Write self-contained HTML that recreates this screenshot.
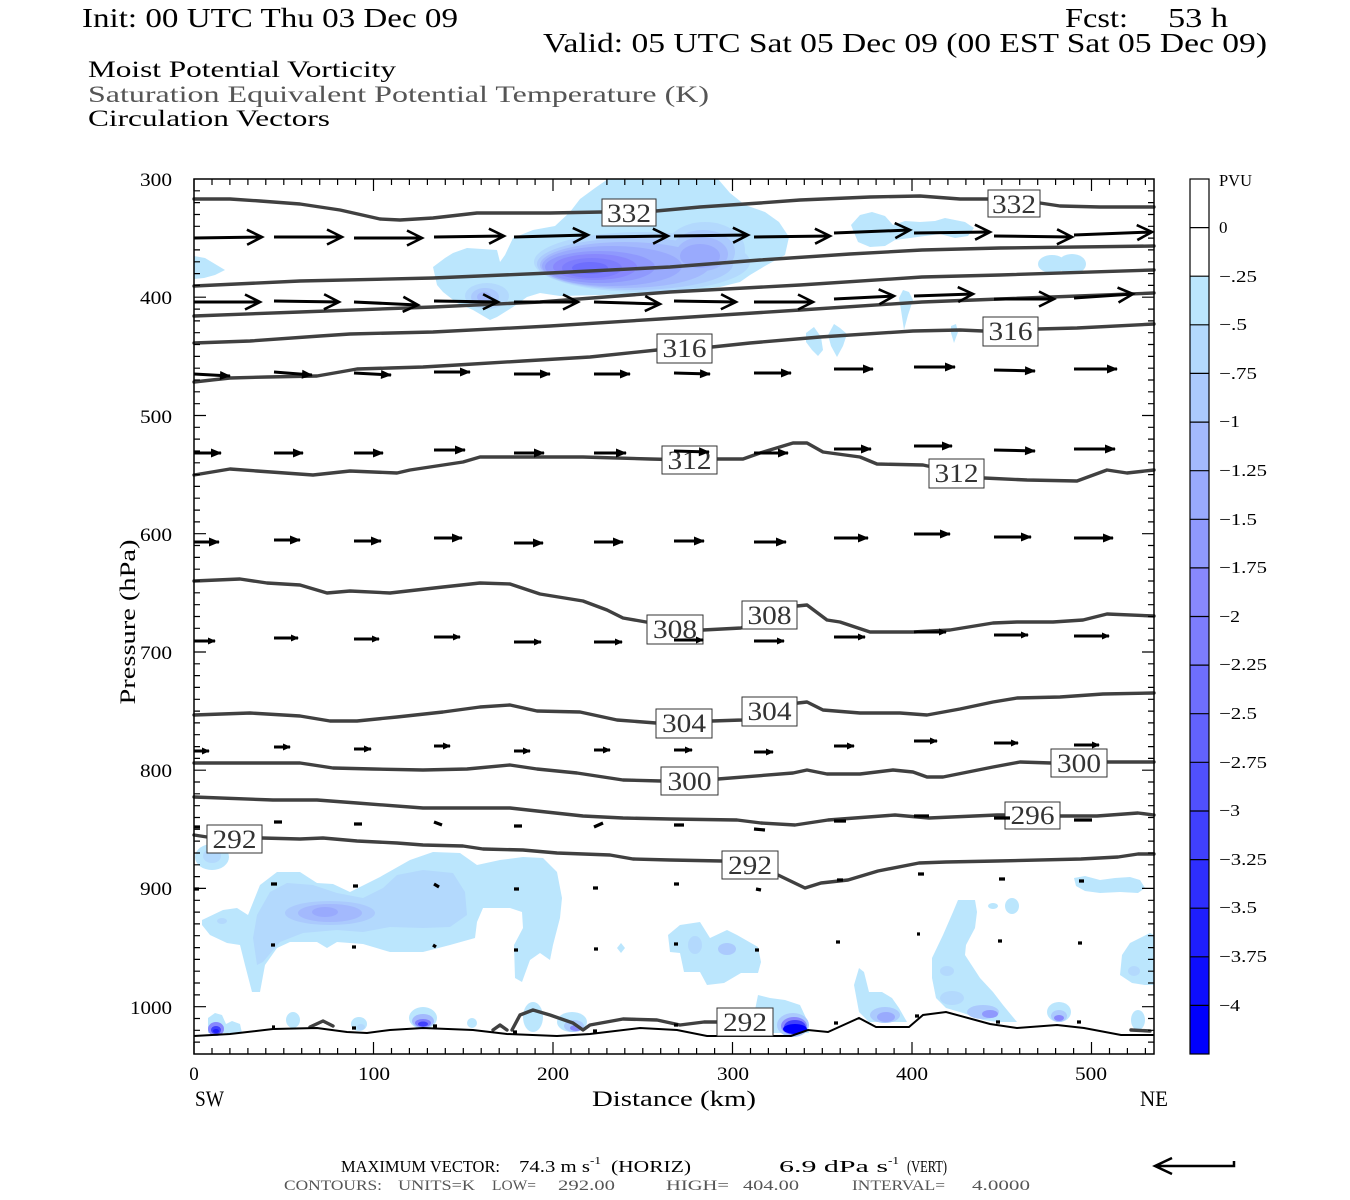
<!DOCTYPE html>
<html><head><meta charset="utf-8"><style>html,body{margin:0;padding:0;background:#fff}svg{display:block}</style></head>
<body>
<svg width="1350" height="1200" viewBox="0 0 1350 1200" xmlns="http://www.w3.org/2000/svg" font-family="'Liberation Serif', serif">
<defs>
<marker id="oh" viewBox="0 0 18 18" markerWidth="18" markerHeight="18" refX="16" refY="8" orient="auto" markerUnits="userSpaceOnUse" overflow="visible"><path d="M1,0.5 L16,8 L1,15.5" fill="none" stroke="#000" stroke-width="2.6"/></marker>
<marker id="fh" viewBox="0 0 11 9" markerWidth="11" markerHeight="9" refX="10" refY="4.5" orient="auto" markerUnits="userSpaceOnUse" overflow="visible"><path d="M0,0 L11,4.5 L0,9Z" fill="#000"/></marker>
<marker id="fs" viewBox="0 0 8 7" markerWidth="8" markerHeight="7" refX="7" refY="3.5" orient="auto" markerUnits="userSpaceOnUse" overflow="visible"><path d="M0,0 L8,3.5 L0,7Z" fill="#000"/></marker>
</defs>
<rect width="1350" height="1200" fill="#fff"/>

<!-- Titles -->
<text x="82" y="27" font-size="27" textLength="376" lengthAdjust="spacingAndGlyphs">Init: 00 UTC Thu 03 Dec 09</text>
<text x="1065" y="27" font-size="27" textLength="63" lengthAdjust="spacingAndGlyphs">Fcst:</text>
<text x="1168" y="27" font-size="27" textLength="60" lengthAdjust="spacingAndGlyphs">53 h</text>
<text x="543" y="52" font-size="27" textLength="724" lengthAdjust="spacingAndGlyphs">Valid: 05 UTC Sat 05 Dec 09 (00 EST Sat 05 Dec 09)</text>
<text x="88" y="77" font-size="23" textLength="308" lengthAdjust="spacingAndGlyphs">Moist Potential Vorticity</text>
<text x="88" y="102" font-size="23" fill="#555" textLength="621" lengthAdjust="spacingAndGlyphs">Saturation Equivalent Potential Temperature (K)</text>
<text x="88" y="126" font-size="23" textLength="242" lengthAdjust="spacingAndGlyphs">Circulation Vectors</text>

<!-- PV shading upper -->
<g stroke="none">
<path d="M194,256 L205,258 215,264 225,270 215,275 204,278 194,279Z" fill="#bbe6fd"/>
<path d="M433,267 L445,258 453,253 467,248 497,250 500,262 505,255 513,238 533,230 555,226 570,212 580,199 595,188 608,179 718,179 730,193 745,205 765,212 779,222 789,237 785,255 765,266 750,275 740,282 720,287 690,290 650,293 600,295 560,296 540,293 527,297 513,307 497,317 490,320 473,310 457,303 443,292 437,285Z" fill="#bbe6fd"/>
<ellipse cx="487" cy="296" rx="22" ry="13" fill="#b3d9fd"/>
<ellipse cx="485" cy="297" rx="14" ry="9" fill="#abcafd"/>
<ellipse cx="484" cy="297" rx="7" ry="5" fill="#a3b9fd"/>
<ellipse cx="642" cy="262" rx="108" ry="30" fill="#b3d9fd"/>
<ellipse cx="705" cy="250" rx="40" ry="28" fill="#b3d9fd"/>
<ellipse cx="635" cy="264" rx="98" ry="26" fill="#abcafd"/>
<ellipse cx="703" cy="252" rx="32" ry="22" fill="#abcafd"/>
<ellipse cx="625" cy="265" rx="85" ry="23" fill="#a3b9fd"/>
<ellipse cx="702" cy="254" rx="26" ry="17" fill="#a3b9fd"/>
<ellipse cx="612" cy="266" rx="70" ry="20" fill="#99aafd"/>
<ellipse cx="700" cy="256" rx="20" ry="12" fill="#99aafd"/>
<ellipse cx="600" cy="267" rx="55" ry="16" fill="#8f99fd"/>
<ellipse cx="595" cy="267" rx="42" ry="13" fill="#8888fd"/>
<ellipse cx="592" cy="268" rx="30" ry="10" fill="#7d7dfd"/>
<ellipse cx="590" cy="268" rx="18" ry="6" fill="#6e6efd"/>
<path d="M851,225 L860,215 872,212 885,216 893,225 905,221 920,222 935,221 945,218 955,220 965,222 974,228 968,236 955,238 940,234 925,236 910,238 895,240 885,246 870,247 858,242Z" fill="#bbe6fd"/>
<ellipse cx="1052" cy="264" rx="14" ry="9" fill="#bbe6fd"/>
<ellipse cx="1072" cy="264" rx="14" ry="10" fill="#bbe6fd"/>
<path d="M903,290 L909,292 913,300 908,315 904,330 901,310 899,298Z" fill="#bbe6fd"/>
<path d="M806,333 L814,327 821,337 823,350 818,356 812,350 806,342Z" fill="#bbe6fd"/>
<path d="M828,335 L834,324 840,328 847,334 843,346 837,357 831,346Z" fill="#bbe6fd"/>
<path d="M951,326 L956,324 958,332 954,343 951,333Z" fill="#bbe6fd"/>

<!-- PV shading lower -->
<ellipse cx="212" cy="857" rx="17" ry="13" fill="#bbe6fd"/>
<ellipse cx="212" cy="856" rx="9" ry="7" fill="#b3d9fd"/>
<path d="M202,920 L223,910 237,908 248,915 260,885 277,872 300,872 317,883 333,884 350,892 380,877 410,860 433,852 460,853 477,865 500,860 523,857 543,858 557,872 562,898 560,918 553,945 550,960 540,953 530,960 522,982 515,978 514,945 523,928 522,912 510,908 483,908 477,922 475,938 450,945 423,952 390,952 363,944 337,942 327,948 317,942 290,942 277,948 265,965 260,992 252,992 245,965 240,945 227,943 210,935 202,925Z" fill="#bbe6fd"/>
<path d="M253,938 L257,915 270,892 287,883 313,885 337,893 363,898 383,888 397,875 423,870 453,873 465,892 467,915 450,927 423,928 390,927 363,932 337,930 303,933 280,942 263,962 257,965Z" fill="#b3d9fd"/>
<ellipse cx="330" cy="913" rx="45" ry="12" fill="#abcafd"/>
<ellipse cx="330" cy="913" rx="32" ry="9" fill="#a3b9fd"/>
<ellipse cx="325" cy="912" rx="13" ry="5" fill="#99aafd"/>
<ellipse cx="222" cy="921" rx="5" ry="3" fill="#b3d9fd"/>
<!-- bottom small blobs left -->
<path d="M208,1033 L208,1018 215,1013 222,1015 226,1024 232,1021 240,1024 242,1033Z" fill="#bbe6fd"/>
<ellipse cx="216" cy="1029" rx="8" ry="7" fill="#8888fd"/>
<ellipse cx="216" cy="1030" rx="5" ry="4" fill="#4040fd"/>
<ellipse cx="216" cy="1031" rx="3" ry="2" fill="#1e1efd"/>
<ellipse cx="293" cy="1020" rx="7" ry="8" fill="#bbe6fd"/>
<ellipse cx="359" cy="1024" rx="8" ry="7" fill="#bbe6fd"/>
<ellipse cx="361" cy="1027" rx="4" ry="3" fill="#b3d9fd"/>
<ellipse cx="423" cy="1018" rx="14" ry="11" fill="#bbe6fd"/>
<ellipse cx="423" cy="1021" rx="11" ry="7" fill="#a3b9fd"/>
<ellipse cx="423" cy="1023" rx="8" ry="4" fill="#7d7dfd"/>
<ellipse cx="423" cy="1024" rx="5" ry="2.5" fill="#4040fd"/>
<ellipse cx="472" cy="1023" rx="5" ry="5" fill="#bbe6fd"/>
<ellipse cx="533" cy="1017" rx="10" ry="15" fill="#bbe6fd"/>
<ellipse cx="572" cy="1022" rx="15" ry="10" fill="#bbe6fd"/>
<ellipse cx="574" cy="1026" rx="10" ry="6" fill="#abcafd"/>
<ellipse cx="576" cy="1028" rx="6" ry="3" fill="#8888fd"/>
<path d="M621,943 L625,948 621,953 617,948Z" fill="#bbe6fd"/>
<ellipse cx="675" cy="943" rx="5" ry="9" fill="#bbe6fd"/>
<!-- right blobs -->
<path d="M668,935 L680,925 700,922 710,938 727,930 737,935 758,947 761,962 758,973 741,973 724,983 707,985 700,972 684,972 680,953 670,952Z" fill="#bbe6fd"/>
<ellipse cx="695" cy="945" rx="7" ry="9" fill="#b3d9fd"/>
<ellipse cx="727" cy="949" rx="9" ry="6" fill="#abcafd"/>
<path d="M745,1018 L755,1010 758,995 770,998 785,1000 800,1005 807,1020 809,1033 760,1033 745,1030Z" fill="#bbe6fd"/>
<ellipse cx="793" cy="1025" rx="16" ry="12" fill="#abcafd"/>
<ellipse cx="794" cy="1026" rx="13" ry="9" fill="#8888fd"/>
<ellipse cx="795" cy="1027" rx="11" ry="7" fill="#4040fd"/>
<ellipse cx="795" cy="1029" rx="12" ry="5" fill="#0000fd"/>
<path d="M859,968 L864,972 869,992 882,992 892,998 899,1008 907,1022 869,1022 859,1012 854,985Z" fill="#bbe6fd"/>
<ellipse cx="885" cy="1015" rx="15" ry="8" fill="#abcafd"/>
<ellipse cx="886" cy="1017" rx="9" ry="5" fill="#99aafd"/>
<path d="M958,900 L975,900 977,912 975,928 966,945 965,955 980,978 993,992 1003,1005 1017,1022 997,1022 983,1020 963,1013 946,1008 936,998 932,978 932,958 943,935 953,912Z" fill="#bbe6fd"/>
<ellipse cx="947" cy="971" rx="7" ry="5" fill="#b3d9fd"/>
<ellipse cx="952" cy="998" rx="12" ry="7" fill="#b3d9fd"/>
<ellipse cx="983" cy="1012" rx="16" ry="7" fill="#abcafd"/>
<ellipse cx="990" cy="1014" rx="8" ry="4" fill="#8f99fd"/>
<ellipse cx="1059" cy="1012" rx="12" ry="10" fill="#bbe6fd"/>
<ellipse cx="1059" cy="1016" rx="8" ry="6" fill="#abcafd"/>
<ellipse cx="1059" cy="1018" rx="5" ry="3" fill="#8888fd"/>
<path d="M1120,975 L1122,955 1130,943 1140,938 1150,933 1154,935 1154,985 1145,985 1132,983Z" fill="#bbe6fd"/>
<ellipse cx="1134" cy="971" rx="6" ry="5" fill="#b3d9fd"/>
<path d="M1074,878 L1085,876 1100,880 1115,878 1130,877 1140,880 1145,888 1138,893 1120,892 1100,893 1085,891 1076,886Z" fill="#bbe6fd"/>
<ellipse cx="993" cy="906" rx="5" ry="3" fill="#bbe6fd"/>
<ellipse cx="1012" cy="906" rx="7" ry="8" fill="#bbe6fd"/>
<ellipse cx="1138" cy="1020" rx="7" ry="10" fill="#bbe6fd"/>
</g>

<!-- Contours -->
<g fill="none" stroke="#404040" stroke-width="3.4" stroke-linejoin="round" stroke-linecap="round">
<polyline points="194,199 230,199 260,201 300,204 340,210 380,219 400,220 433,218 477,213 550,213 602,212 656,211 700,207 760,203 800,200 870,197 920,196 960,199 988,199 1040,203 1060,206 1100,207 1154,207"/>
<polyline points="194,286 300,281 433,278 550,273 670,267 760,260 850,254 922,250 1000,248 1154,246"/>
<polyline points="194,316 300,312 433,307 540,302 670,292 800,285 922,277 1000,275 1154,270"/>
<polyline points="194,343 250,341 320,336 350,334 433,332 550,326 660,319 800,310 922,302 1000,299 1154,293"/>
<polyline points="194,382 230,378 267,377 317,376 340,372 357,369 390,368 423,367 457,365 523,361 590,357 657,350 712,347 750,343 820,337 913,331 960,330 983,331 1038,329 1077,328 1154,324"/>
<polyline points="194,475 230,469 257,471 313,475 350,471 397,473 410,470 463,462 480,457 583,457 650,459 690,460 717,459 743,459 760,453 793,443 807,443 823,452 860,457 877,464 923,465 955,472 984,478 1027,480 1077,481 1107,470 1127,473 1154,470"/>
<polyline points="194,581 240,579 267,583 300,585 327,593 350,591 390,593 443,587 480,583 510,584 540,594 583,601 607,610 623,618 646,622 675,627 703,630 741,628 770,615 797,606 807,605 827,620 840,622 870,632 913,632 950,630 993,623 1017,622 1053,622 1083,620 1107,614 1154,616"/>
<polyline points="194,715 250,713 300,716 330,721 357,721 397,717 443,712 480,707 510,705 537,711 580,712 617,720 656,723 684,722 712,721 742,720 770,710 798,703 807,702 823,710 860,713 900,713 927,715 960,709 993,702 1017,698 1060,697 1103,694 1154,693"/>
<polyline points="194,763 250,763 300,763 333,768 373,769 423,770 467,769 510,765 537,769 577,773 623,780 661,781 690,780 718,779 793,773 807,770 827,774 860,774 893,770 913,772 927,777 943,777 993,767 1020,762 1051,763 1080,762 1107,762 1154,762"/>
<polyline points="194,797 273,800 317,800 357,803 423,808 510,808 537,811 583,816 623,818 670,819 737,820 761,823 795,825 828,820 895,815 929,818 997,815 1033,815 1060,816 1097,816 1138,813 1154,815"/>
<polyline points="194,835 207,837 235,838 262,838 300,839 323,838 357,841 397,843 423,845 463,846 483,849 523,850 557,853 610,855 633,859 670,860 722,861 750,866 778,875 805,888 821,883 848,880 878,871 919,863 946,862 997,861 1081,859 1118,857 1138,854 1154,854"/>
<path d="M310,1027 L323,1021 333,1026 M493,1030 L500,1025 507,1030 M512,1030 L520,1015 533,1010 550,1015 573,1023 583,1030 590,1025 623,1019 657,1020 680,1025 704,1022 745,1022 M1131,1030 L1150,1031"/>
</g>
<path d="M194,1036 L230,1034 273,1029 317,1028 347,1032 367,1033 390,1030 423,1028 473,1030 507,1034 557,1036 590,1034 640,1028 677,1030 707,1036 791,1036 808,1030 828,1032 859,1018 876,1027 909,1027 923,1015 946,1012 990,1024 1017,1028 1057,1025 1084,1028 1121,1035 1154,1035" fill="none" stroke="#000" stroke-width="2"/>

<!-- Contour labels -->
<g fill="#fff" stroke="#333" stroke-width="1">
<rect x="602" y="199" width="54" height="27"/>
<rect x="988" y="190" width="52" height="27"/>
<rect x="657" y="334" width="55" height="29"/>
<rect x="983" y="317" width="55" height="29"/>
<rect x="662" y="446" width="55" height="28"/>
<rect x="929" y="459" width="55" height="29"/>
<rect x="647" y="615" width="56" height="29"/>
<rect x="742" y="601" width="55" height="28"/>
<rect x="656" y="709" width="56" height="29"/>
<rect x="742" y="697" width="55" height="29"/>
<rect x="661" y="767" width="57" height="28"/>
<rect x="1051" y="749" width="56" height="28"/>
<rect x="1005" y="802" width="55" height="27"/>
<rect x="207" y="825" width="55" height="28"/>
<rect x="722" y="851" width="56" height="28"/>
<rect x="717" y="1008" width="56" height="28"/>
</g>
<g font-size="26" fill="#333" text-anchor="middle">
<text x="629" y="222" textLength="44" lengthAdjust="spacingAndGlyphs">332</text>
<text x="1014" y="213" textLength="44" lengthAdjust="spacingAndGlyphs">332</text>
<text x="684.5" y="357" textLength="44" lengthAdjust="spacingAndGlyphs">316</text>
<text x="1010.5" y="340" textLength="44" lengthAdjust="spacingAndGlyphs">316</text>
<text x="689.5" y="469" textLength="44" lengthAdjust="spacingAndGlyphs">312</text>
<text x="956.5" y="482" textLength="44" lengthAdjust="spacingAndGlyphs">312</text>
<text x="675" y="638" textLength="44" lengthAdjust="spacingAndGlyphs">308</text>
<text x="769.5" y="624" textLength="44" lengthAdjust="spacingAndGlyphs">308</text>
<text x="684" y="732" textLength="44" lengthAdjust="spacingAndGlyphs">304</text>
<text x="769.5" y="720" textLength="44" lengthAdjust="spacingAndGlyphs">304</text>
<text x="689.5" y="790" textLength="44" lengthAdjust="spacingAndGlyphs">300</text>
<text x="1079" y="772" textLength="44" lengthAdjust="spacingAndGlyphs">300</text>
<text x="1032.5" y="824" textLength="44" lengthAdjust="spacingAndGlyphs">296</text>
<text x="234.5" y="848" textLength="44" lengthAdjust="spacingAndGlyphs">292</text>
<text x="750" y="874" textLength="44" lengthAdjust="spacingAndGlyphs">292</text>
<text x="745" y="1031" textLength="44" lengthAdjust="spacingAndGlyphs">292</text>
</g>

<!-- Vectors -->
<g stroke="#000" stroke-width="3" fill="none" marker-end="url(#oh)">
<line x1="194" y1="238" x2="262" y2="237"/><line x1="274" y1="237" x2="342" y2="237"/><line x1="354" y1="238" x2="422" y2="238"/><line x1="434" y1="237" x2="504" y2="236"/><line x1="514" y1="237" x2="588" y2="235"/><line x1="596" y1="237" x2="668" y2="236"/><line x1="674" y1="236" x2="748" y2="235"/><line x1="754" y1="237" x2="830" y2="236"/><line x1="834" y1="233" x2="910" y2="230"/><line x1="914" y1="233" x2="990" y2="232"/><line x1="994" y1="236" x2="1072" y2="237"/><line x1="1074" y1="235" x2="1152" y2="232"/>
<line x1="194" y1="302" x2="260" y2="302"/><line x1="274" y1="301" x2="339" y2="302"/><line x1="354" y1="302" x2="418" y2="305"/><line x1="434" y1="301" x2="498" y2="302"/><line x1="514" y1="302" x2="578" y2="302"/><line x1="594" y1="302" x2="660" y2="304"/><line x1="674" y1="301" x2="736" y2="302"/><line x1="754" y1="302" x2="813" y2="302"/><line x1="834" y1="299" x2="894" y2="296"/><line x1="914" y1="296" x2="973" y2="294"/><line x1="994" y1="299" x2="1054" y2="299"/><line x1="1074" y1="298" x2="1133" y2="294"/>
</g>
<g stroke="#000" stroke-width="3" fill="none" marker-end="url(#fh)">
<line x1="194" y1="374" x2="230" y2="376"/><line x1="274" y1="372" x2="312" y2="375"/><line x1="354" y1="373" x2="391" y2="375"/><line x1="434" y1="372" x2="470" y2="372"/><line x1="514" y1="374" x2="550" y2="374"/><line x1="594" y1="374" x2="630" y2="374"/><line x1="674" y1="373" x2="710" y2="374"/><line x1="754" y1="373" x2="791" y2="373"/><line x1="834" y1="369" x2="873" y2="369"/><line x1="914" y1="367" x2="955" y2="367"/><line x1="994" y1="370" x2="1035" y2="371"/><line x1="1074" y1="369" x2="1117" y2="369"/>
<line x1="194" y1="453" x2="221" y2="453"/><line x1="274" y1="453" x2="303" y2="453"/><line x1="354" y1="453" x2="383" y2="453"/><line x1="434" y1="450" x2="465" y2="450"/><line x1="514" y1="453" x2="544" y2="453"/><line x1="594" y1="453" x2="626" y2="453"/><line x1="674" y1="451" x2="709" y2="452"/><line x1="754" y1="453" x2="788" y2="453"/><line x1="834" y1="449" x2="871" y2="449"/><line x1="914" y1="446" x2="952" y2="446"/><line x1="994" y1="450" x2="1035" y2="451"/><line x1="1074" y1="449" x2="1115" y2="449"/>
<line x1="194" y1="542" x2="219" y2="542"/><line x1="274" y1="540" x2="300" y2="540"/><line x1="354" y1="541" x2="381" y2="541"/><line x1="434" y1="538" x2="462" y2="538"/><line x1="514" y1="543" x2="543" y2="543"/><line x1="594" y1="542" x2="623" y2="542"/><line x1="674" y1="541" x2="704" y2="541"/><line x1="754" y1="542" x2="786" y2="542"/><line x1="834" y1="538" x2="868" y2="538"/><line x1="914" y1="534" x2="950" y2="534"/><line x1="994" y1="537" x2="1031" y2="537"/><line x1="1074" y1="538" x2="1113" y2="538"/>
</g>
<g stroke="#000" stroke-width="3" fill="none" marker-end="url(#fs)">
<line x1="194" y1="641" x2="215" y2="641"/><line x1="274" y1="638" x2="298" y2="638"/><line x1="354" y1="639" x2="379" y2="639"/><line x1="434" y1="637" x2="460" y2="637"/><line x1="514" y1="642" x2="541" y2="642"/><line x1="594" y1="642" x2="622" y2="642"/><line x1="674" y1="640" x2="703" y2="640"/><line x1="754" y1="641" x2="784" y2="641"/><line x1="834" y1="637" x2="865" y2="637"/><line x1="914" y1="632" x2="946" y2="632"/><line x1="994" y1="635" x2="1028" y2="635"/><line x1="1074" y1="636" x2="1109" y2="636"/>
<line x1="194" y1="751" x2="209" y2="751"/><line x1="274" y1="747" x2="290" y2="747"/><line x1="354" y1="749" x2="371" y2="749"/><line x1="434" y1="746" x2="450" y2="746"/><line x1="514" y1="751" x2="530" y2="751"/><line x1="594" y1="750" x2="610" y2="750"/><line x1="674" y1="750" x2="692" y2="750"/><line x1="754" y1="752" x2="773" y2="752"/><line x1="834" y1="746" x2="854" y2="746"/><line x1="914" y1="741" x2="937" y2="741"/><line x1="994" y1="743" x2="1018" y2="743"/><line x1="1074" y1="745" x2="1099" y2="745"/>
</g>
<g stroke="#000" stroke-width="3.2" fill="none">
<path d="M194,827h6M274,822h8M354,824h8M434,822l8,3M514,826h8M594,827l9,-4M674,825h10M754,829l11,1M834,821h12M914,816h15M994,818h16M1074,820h18"/>
<path d="M194,889h5M271,884h6M353,886h5M434,884l5,3M514,889h5M593,888h5M674,884h5M756,889l5,1M837,880h6M918,874h6M999,879h6M1079,881h5"/>
<path d="M271,945h4M352,947h4M433,945l3,2M514,950h4M594,949h4M674,944h4M755,950h4M836,942h4M917,934h3M998,941h4M1078,943h4"/>
<path d="M272,1027h3M352,1028h4M433,1026h4M513,1032h4M593,1031h4M674,1025h4M834,1023h4M915,1016h4M996,1022h4M1077,1022h4"/>
</g>

<!-- Frame and ticks -->
<rect x="194" y="179" width="960" height="875" fill="none" stroke="#000" stroke-width="1.5"/>
<g stroke="#000" stroke-width="1.2" fill="none">
<path id="tt" d="M194 179v12M212 179v6M229.9 179v6M247.9 179v6M265.8 179v6M283.8 179v6M301.7 179v6M319.7 179v6M337.6 179v6M355.6 179v6M373.5 179v12M391.5 179v6M409.4 179v6M427.4 179v6M445.3 179v6M463.3 179v6M481.2 179v6M499.2 179v6M517.1 179v6M535.1 179v6M553 179v12M571 179v6M588.9 179v6M606.9 179v6M624.8 179v6M642.8 179v6M660.7 179v6M678.7 179v6M696.6 179v6M714.6 179v6M732.5 179v12M750.5 179v6M768.4 179v6M786.4 179v6M804.3 179v6M822.3 179v6M840.2 179v6M858.2 179v6M876.1 179v6M894.1 179v6M912 179v12M930 179v6M947.9 179v6M965.9 179v6M983.8 179v6M1001.8 179v6M1019.7 179v6M1037.7 179v6M1055.6 179v6M1073.6 179v6M1091.5 179v12M1109.5 179v6M1127.4 179v6M1145.4 179v6"/>
<use href="#tt" transform="translate(0,1233) scale(1,-1)"/>
<path id="lt" d="M194 190.8h6M194 202.6h6M194 214.5h6M194 226.3h6M194 238.1h6M194 249.9h6M194 261.8h6M194 273.6h6M194 285.4h6M194 297.2h12M194 309.1h6M194 320.9h6M194 332.7h6M194 344.5h6M194 356.4h6M194 368.2h6M194 380h6M194 391.8h6M194 403.7h6M194 415.5h12M194 427.3h6M194 439.1h6M194 451h6M194 462.8h6M194 474.6h6M194 486.4h6M194 498.2h6M194 510.1h6M194 521.9h6M194 533.7h12M194 545.5h6M194 557.4h6M194 569.2h6M194 581h6M194 592.8h6M194 604.7h6M194 616.5h6M194 628.3h6M194 640.1h6M194 652h12M194 663.8h6M194 675.6h6M194 687.4h6M194 699.3h6M194 711.1h6M194 722.9h6M194 734.7h6M194 746.6h6M194 758.4h6M194 770.2h12M194 782h6M194 793.8h6M194 805.7h6M194 817.5h6M194 829.3h6M194 841.1h6M194 853h6M194 864.8h6M194 876.6h6M194 888.4h12M194 900.3h6M194 912.1h6M194 923.9h6M194 935.7h6M194 947.6h6M194 959.4h6M194 971.2h6M194 983h6M194 994.9h6M194 1006.7h12M194 1018.5h6M194 1030.3h6M194 1042.1h6"/>
<use href="#lt" transform="translate(1348,0) scale(-1,1)"/>
</g>

<!-- Axis labels -->
<g font-size="19" text-anchor="end">
<text x="172" y="186" textLength="32" lengthAdjust="spacingAndGlyphs">300</text>
<text x="172" y="304" textLength="32" lengthAdjust="spacingAndGlyphs">400</text>
<text x="172" y="423" textLength="32" lengthAdjust="spacingAndGlyphs">500</text>
<text x="172" y="541" textLength="32" lengthAdjust="spacingAndGlyphs">600</text>
<text x="172" y="659" textLength="32" lengthAdjust="spacingAndGlyphs">700</text>
<text x="172" y="777" textLength="32" lengthAdjust="spacingAndGlyphs">800</text>
<text x="172" y="895" textLength="32" lengthAdjust="spacingAndGlyphs">900</text>
<text x="172" y="1014" textLength="42" lengthAdjust="spacingAndGlyphs">1000</text>
</g>
<g font-size="19" text-anchor="middle">
<text x="194" y="1080">0</text>
<text x="374" y="1080" textLength="32" lengthAdjust="spacingAndGlyphs">100</text>
<text x="553" y="1080" textLength="32" lengthAdjust="spacingAndGlyphs">200</text>
<text x="733" y="1080" textLength="32" lengthAdjust="spacingAndGlyphs">300</text>
<text x="912" y="1080" textLength="32" lengthAdjust="spacingAndGlyphs">400</text>
<text x="1091" y="1080" textLength="32" lengthAdjust="spacingAndGlyphs">500</text>
</g>
<text x="195" y="1106" font-size="22" textLength="29" lengthAdjust="spacingAndGlyphs">SW</text>
<text x="592" y="1106" font-size="22" textLength="164" lengthAdjust="spacingAndGlyphs">Distance (km)</text>
<text x="1140" y="1106" font-size="22" textLength="28" lengthAdjust="spacingAndGlyphs">NE</text>
<text transform="translate(135,622) rotate(-90)" font-size="22" text-anchor="middle" textLength="165" lengthAdjust="spacingAndGlyphs">Pressure (hPa)</text>

<!-- Colorbar -->
<g stroke="none">
<rect x="1190" y="179" width="19" height="97.2" fill="#fff"/>
<rect x="1190" y="276.2" width="19" height="48.6" fill="#bbe6fd"/>
<rect x="1190" y="324.8" width="19" height="48.6" fill="#b3d9fd"/>
<rect x="1190" y="373.4" width="19" height="48.7" fill="#abcafd"/>
<rect x="1190" y="422.1" width="19" height="48.6" fill="#a3b9fd"/>
<rect x="1190" y="470.7" width="19" height="48.6" fill="#99aafd"/>
<rect x="1190" y="519.3" width="19" height="48.6" fill="#8f99fd"/>
<rect x="1190" y="567.9" width="19" height="48.6" fill="#8888fd"/>
<rect x="1190" y="616.5" width="19" height="48.6" fill="#7d7dfd"/>
<rect x="1190" y="665.1" width="19" height="48.6" fill="#6e6efd"/>
<rect x="1190" y="713.7" width="19" height="48.6" fill="#6262fd"/>
<rect x="1190" y="762.3" width="19" height="48.7" fill="#5050fd"/>
<rect x="1190" y="811" width="19" height="48.6" fill="#4040fd"/>
<rect x="1190" y="859.6" width="19" height="48.6" fill="#2e2efd"/>
<rect x="1190" y="908.2" width="19" height="48.6" fill="#1e1efd"/>
<rect x="1190" y="956.8" width="19" height="48.6" fill="#0e0efd"/>
<rect x="1190" y="1005.4" width="19" height="48.6" fill="#0000fd"/>
</g>
<g stroke="#000" stroke-width="1.2" fill="none">
<rect x="1190" y="179" width="19" height="875"/>
<path d="M1190 227.6h19M1190 276.2h19M1190 324.8h19M1190 373.4h19M1190 422.1h19M1190 470.7h19M1190 519.3h19M1190 567.9h19M1190 616.5h19M1190 665.1h19M1190 713.7h19M1190 762.3h19M1190 811h19M1190 859.6h19M1190 908.2h19M1190 956.8h19M1190 1005.4h19"/>
</g>
<g font-size="17">
<text x="1219" y="186" textLength="33" lengthAdjust="spacingAndGlyphs">PVU</text>
<text x="1219" y="233">0</text>
<text x="1219" y="282" textLength="38" lengthAdjust="spacingAndGlyphs">−.25</text>
<text x="1219" y="330" textLength="28" lengthAdjust="spacingAndGlyphs">−.5</text>
<text x="1219" y="379" textLength="38" lengthAdjust="spacingAndGlyphs">−.75</text>
<text x="1219" y="427" textLength="21" lengthAdjust="spacingAndGlyphs">−1</text>
<text x="1219" y="476" textLength="48" lengthAdjust="spacingAndGlyphs">−1.25</text>
<text x="1219" y="525" textLength="38" lengthAdjust="spacingAndGlyphs">−1.5</text>
<text x="1219" y="573" textLength="48" lengthAdjust="spacingAndGlyphs">−1.75</text>
<text x="1219" y="622" textLength="21" lengthAdjust="spacingAndGlyphs">−2</text>
<text x="1219" y="670" textLength="48" lengthAdjust="spacingAndGlyphs">−2.25</text>
<text x="1219" y="719" textLength="38" lengthAdjust="spacingAndGlyphs">−2.5</text>
<text x="1219" y="768" textLength="48" lengthAdjust="spacingAndGlyphs">−2.75</text>
<text x="1219" y="816" textLength="21" lengthAdjust="spacingAndGlyphs">−3</text>
<text x="1219" y="865" textLength="48" lengthAdjust="spacingAndGlyphs">−3.25</text>
<text x="1219" y="913" textLength="38" lengthAdjust="spacingAndGlyphs">−3.5</text>
<text x="1219" y="962" textLength="48" lengthAdjust="spacingAndGlyphs">−3.75</text>
<text x="1219" y="1011" textLength="21" lengthAdjust="spacingAndGlyphs">−4</text>
</g>

<!-- Bottom text -->
<g font-size="17">
<text x="341" y="1172" textLength="159" lengthAdjust="spacingAndGlyphs">MAXIMUM VECTOR:</text>
<text x="519" y="1172" textLength="71" lengthAdjust="spacingAndGlyphs">74.3 m s</text>
<text x="590" y="1164" font-size="11" textLength="11" lengthAdjust="spacingAndGlyphs">-1</text>
<text x="611" y="1172" textLength="80" lengthAdjust="spacingAndGlyphs">(HORIZ)</text>
<text x="779" y="1172" textLength="109" lengthAdjust="spacingAndGlyphs">6.9 dPa s</text>
<text x="888" y="1164" font-size="11" textLength="11" lengthAdjust="spacingAndGlyphs">-1</text>
<text x="907" y="1172" textLength="40" lengthAdjust="spacingAndGlyphs">(VERT)</text>
</g>
<g font-size="15" fill="#555">
<text x="284" y="1190" textLength="98" lengthAdjust="spacingAndGlyphs">CONTOURS:</text>
<text x="398" y="1190" textLength="77" lengthAdjust="spacingAndGlyphs">UNITS=K</text>
<text x="492" y="1190" textLength="44" lengthAdjust="spacingAndGlyphs">LOW=</text>
<text x="558" y="1190" textLength="57" lengthAdjust="spacingAndGlyphs">292.00</text>
<text x="666" y="1190" textLength="63" lengthAdjust="spacingAndGlyphs">HIGH=</text>
<text x="743" y="1190" textLength="56" lengthAdjust="spacingAndGlyphs">404.00</text>
<text x="852" y="1190" textLength="93" lengthAdjust="spacingAndGlyphs">INTERVAL=</text>
<text x="972" y="1190" textLength="58" lengthAdjust="spacingAndGlyphs">4.0000</text>
</g>
<path d="M1156,1166 L1234,1166 L1234,1161 M1172,1158 L1155,1166 L1172,1174" fill="none" stroke="#000" stroke-width="2.5"/>
</svg>
</body></html>
